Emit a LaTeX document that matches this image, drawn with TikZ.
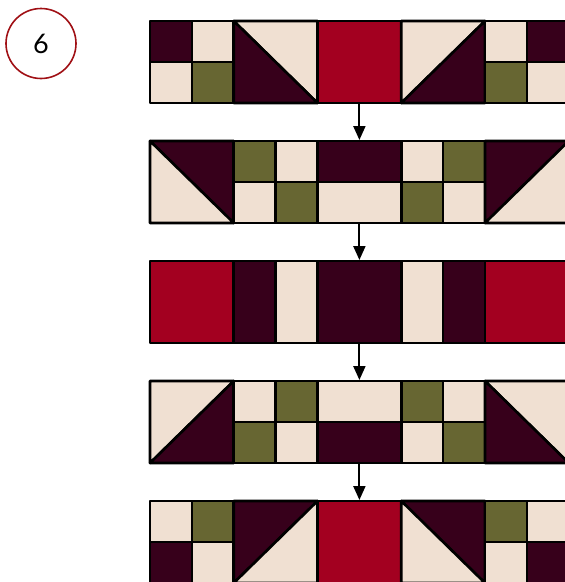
\documentclass[tikz,border=0pt]{standalone}
\usepackage{fontspec}
\setmainfont{Lato}
\usetikzlibrary{arrows.meta}
\definecolor{qcream}{HTML}{F0E0D2}
\definecolor{qmaroon}{HTML}{37001B}
\definecolor{qred}{HTML}{A30020}
\definecolor{qolive}{HTML}{676632}
\definecolor{qring}{HTML}{A01015}
\def\bw{83.75}
\def\bh{82}
\def\hw{41.875}
\def\hh{41}
% four-patch: x y TL TR BL BR
\newcommand\Qfour[6]{%
  \filldraw[piece,fill=#3] (#1,#2) rectangle ++(\hw,\hh);
  \filldraw[piece,fill=#4] ([xshift=\hw pt]#1,#2) rectangle ++(\hw,\hh);
  \filldraw[piece,fill=#5] ([yshift=-\hh pt]#1,#2) rectangle ++(\hw,\hh);
  \filldraw[piece,fill=#6] ([xshift=\hw pt,yshift=-\hh pt]#1,#2) rectangle ++(\hw,\hh);}
% solid block
\newcommand\Qsolid[3]{\filldraw[piece,fill=#3] (#1,#2) rectangle ++(\bw,\bh);}
% diagonal TL-BR: upper-right, lower-left
\newcommand\Qdiagd[4]{%
  \filldraw[piece,fill=#3] (#1,#2) -- ++(\bw,0) -- ++(0,\bh) -- cycle;
  \filldraw[piece,fill=#4] (#1,#2) -- ++(0,\bh) -- ++(\bw,0) -- cycle;}
% diagonal BL-TR: upper-left, lower-right
\newcommand\Qdiaga[4]{%
  \filldraw[piece,fill=#3] (#1,#2) -- ++(\bw,0) -- ++(-\bw,\bh) -- cycle;
  \filldraw[piece,fill=#4] ([xshift=\bw pt]#1,#2) -- ++(0,\bh) -- ++(-\bw,0) -- cycle;}
% horizontal halves: top, bottom
\newcommand\Qhoriz[4]{%
  \filldraw[piece,fill=#3] (#1,#2) rectangle ++(\bw,\hh);
  \filldraw[piece,fill=#4] ([yshift=-\hh pt]#1,#2) rectangle ++(\bw,\hh);}
% vertical halves: left, right
\newcommand\Qvert[4]{%
  \filldraw[piece,fill=#3] (#1,#2) rectangle ++(\hw,\bh);
  \filldraw[piece,fill=#4] ([xshift=\hw pt]#1,#2) rectangle ++(\hw,\bh);}
\begin{document}
\begin{tikzpicture}[x=1pt,y=-1pt,
  piece/.style={draw=black,line width=2.6pt,line join=round},
  flow/.style={draw=black,line width=2pt,-{Triangle[length=14pt,width=12pt]}},
  ring/.style={circle,draw=qring,line width=1.6pt,minimum size=70pt,inner sep=0pt,font=\fontsize{27}{27}\selectfont}]
\useasboundingbox (0,0) rectangle (565,582);
\clip (0,0) rectangle (565,582);
\node[ring] (num) at (41,43.5) {6};
% row 1
\Qfour{150}{21}{qmaroon}{qcream}{qcream}{qolive}
\Qdiagd{233.75}{21}{qcream}{qmaroon}
\Qsolid{317.5}{21}{qred}
\Qdiaga{401.25}{21}{qcream}{qmaroon}
\Qfour{485}{21}{qcream}{qmaroon}{qolive}{qcream}
% row 2
\Qdiagd{150}{141}{qmaroon}{qcream}
\Qfour{233.75}{141}{qolive}{qcream}{qcream}{qolive}
\Qhoriz{317.5}{141}{qmaroon}{qcream}
\Qfour{401.25}{141}{qcream}{qolive}{qolive}{qcream}
\Qdiaga{485}{141}{qmaroon}{qcream}
% row 3
\Qsolid{150}{261}{qred}
\Qvert{233.75}{261}{qmaroon}{qcream}
\Qsolid{317.5}{261}{qmaroon}
\Qvert{401.25}{261}{qcream}{qmaroon}
\Qsolid{485}{261}{qred}
% row 4
\Qdiaga{150}{381}{qcream}{qmaroon}
\Qfour{233.75}{381}{qcream}{qolive}{qolive}{qcream}
\Qhoriz{317.5}{381}{qcream}{qmaroon}
\Qfour{401.25}{381}{qolive}{qcream}{qcream}{qolive}
\Qdiagd{485}{381}{qcream}{qmaroon}
% row 5
\Qfour{150}{501}{qcream}{qolive}{qmaroon}{qcream}
\Qdiaga{233.75}{501}{qmaroon}{qcream}
\Qsolid{317.5}{501}{qred}
\Qdiagd{401.25}{501}{qmaroon}{qcream}
\Qfour{485}{501}{qolive}{qcream}{qcream}{qmaroon}
% arrows
\coordinate (r1b) at (359.4,103);
\coordinate (r2t) at (359.4,140);
\coordinate (r2b) at (359.4,223);
\coordinate (r3t) at (359.4,260);
\coordinate (r3b) at (359.4,343);
\coordinate (r4t) at (359.4,380);
\coordinate (r4b) at (359.4,463);
\coordinate (r5t) at (359.4,500);
\draw[flow] (r1b) -- (r2t);
\draw[flow] (r2b) -- (r3t);
\draw[flow] (r3b) -- (r4t);
\draw[flow] (r4b) -- (r5t);
\end{tikzpicture}
\end{document}
